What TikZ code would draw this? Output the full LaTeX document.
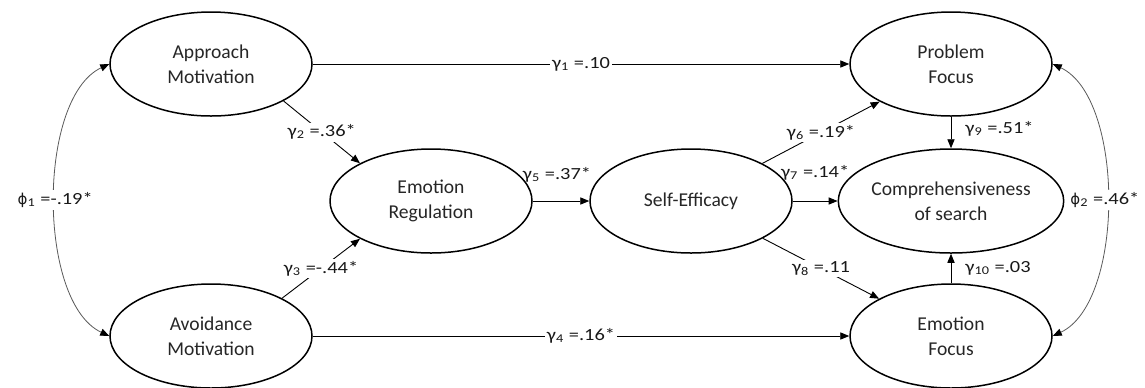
\documentclass[tikz,border=0pt]{standalone}
\usepackage{fontspec}
\setmainfont{Carlito}
\newfontfamily\labfont{Carlito}[FakeStretch=1.2]
\newfontfamily\phifont{DejaVu Sans}
\usetikzlibrary{shapes.geometric,arrows.meta}
\begin{document}
\begin{tikzpicture}[x=0.5pt,y=-0.5pt,
  lat/.style={draw, ellipse, line width=0.75pt, minimum width=101pt, minimum height=52pt,
    inner sep=0pt, align=center, text=black!85, font=\fontsize{9.8}{12.5}\selectfont},
  conn/.style={line width=0.45pt, -{Triangle[length=4.5pt,width=3.6pt]}},
  cov/.style={line width=0.4pt, draw=black!65, looseness=0.75, {Triangle[length=4.5pt,width=3.6pt,fill=black,color=black]}-{Triangle[length=4.5pt,width=3.6pt,fill=black,color=black]}},
  lab/.style={fill=white, inner sep=1pt, text=black!90, font=\labfont\fontsize{8.5}{10}\selectfont}
]
\useasboundingbox (0,0) rectangle (1145,387);
\node[lat] (app) at (211,64) {Approach\\Motivation};
\node[lat] (avo) at (211,336) {Avoidance\\Motivation};
\node[lat] (er) at (431,201) {Emotion\\Regulation};
\node[lat] (se) at (691,201) {Self-Efficacy};
\node[lat] (cs) at (951,201) {Comprehensiveness\\of search};
\node[lat] (pf) at (951,64) {Problem\\Focus};
\node[lat] (ef) at (951,336) {Emotion\\Focus};

\draw[conn] (app.east) -- node[lab]{γ\textsubscript{1} =.10} (pf.west);
\draw[conn] (avo.east) -- node[lab]{γ\textsubscript{4} =.16*} (ef.west);
\draw[conn] (app.-27) -- node[lab]{γ\textsubscript{2} =.36*} (er.152);
\draw[conn] (avo.28) -- node[lab]{γ\textsubscript{3} =-.44*} (er.208);
\draw[conn] (er.east) -- node[lab, fill=none, yshift=13pt, xshift=-2pt]{γ\textsubscript{5} =.37*} (se.west);
\draw[conn] (se) -- node[lab]{γ\textsubscript{6} =.19*} (pf);
\draw[conn] (se.east) -- node[lab, fill=none, yshift=14pt]{γ\textsubscript{7} =.14*} (cs.west);
\draw[conn] (se) -- node[lab]{γ\textsubscript{8} =.11} (ef);
\draw[conn] (pf.south) -- node[lab, fill=none, right=6pt, yshift=2pt]{γ\textsubscript{9} =.51*} (cs.north);
\draw[conn] (ef.north) -- node[lab, fill=none, right=6pt]{γ\textsubscript{10} =.03} (cs.south);
\draw[cov] (app.west) to[out=205,in=155] node[lab]{{\phifont\fontsize{7.5}{9}\selectfont ϕ}\textsubscript{1} =-.19*} (avo.west);
\draw[cov] (pf.east) to[out=-25,in=25] node[lab, xshift=-1pt]{{\phifont\fontsize{7.5}{9}\selectfont ϕ}\textsubscript{2} =.46*} (ef.east);
\end{tikzpicture}
\end{document}
